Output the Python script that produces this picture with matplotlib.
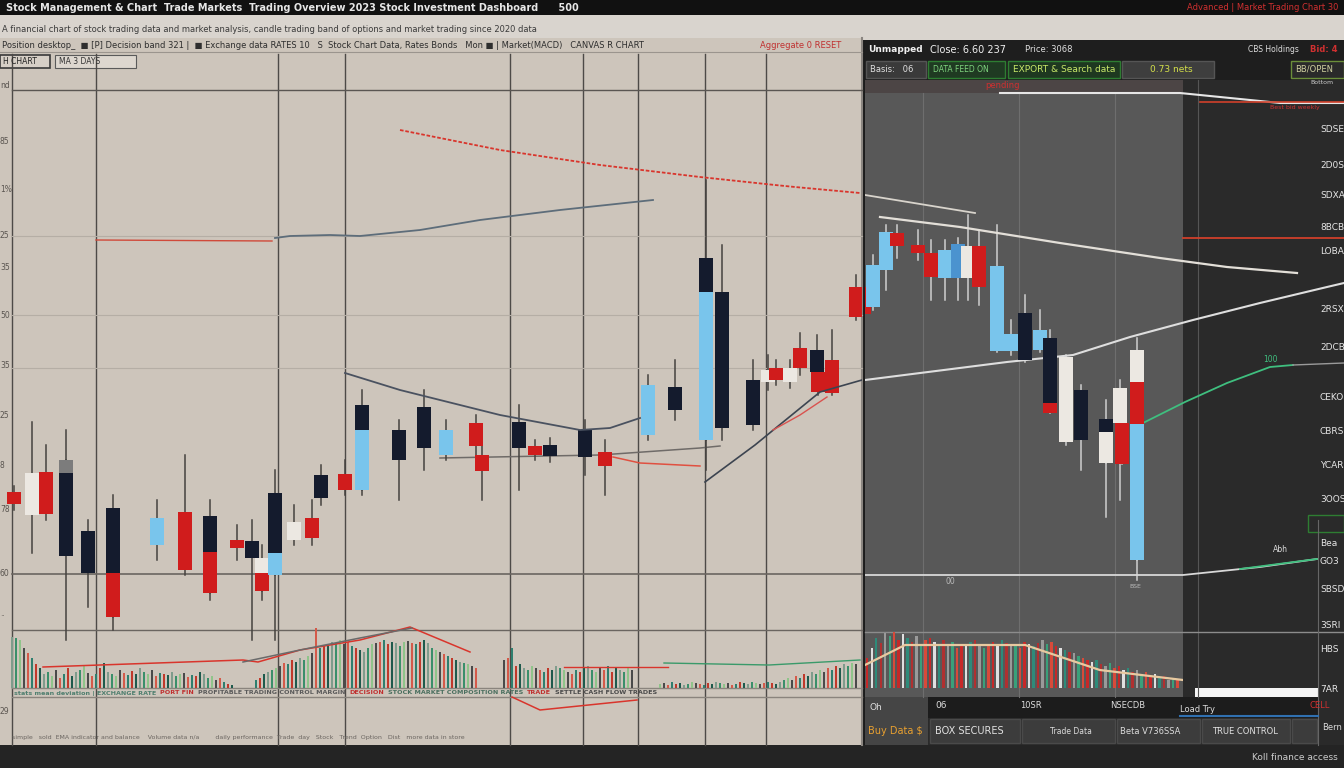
import matplotlib
matplotlib.use('Agg')
import matplotlib.pyplot as plt
from matplotlib.patches import Rectangle
import numpy as np

W, H = 1344, 768

# ---- candle data: time, body top, body bottom, high, low, colour code ----
l_t = [2.8, 6.4, 9.2, 13.2, 13.2, 17.6, 22.6, 22.6, 31.4, 37, 42, 42, 47.4, 50.4, 52.4, 52.4,
       55, 55, 58.8, 62.4, 64.2, 69, 72.4, 72.4, 79.8, 84.8, 89.2, 95.2, 96.4, 103.8, 107, 110,
       117, 121, 129.6, 135, 141.2, 141.2, 144.4, 150.6, 153.6, 155.2, 158, 160, 163.4, 163.6,
       166.4, 171.2]
l_top = [308, 327, 328, 340, 327, 269, 292, 227, 282, 288, 284, 248, 260, 259, 242, 227,
         307, 247, 278, 282, 325, 326, 395, 370, 370, 393, 370, 377, 345, 378, 354, 355,
         370, 348, 415, 413, 542, 508, 508, 420, 430, 432, 432, 452, 450, 428,
         440, 513]
l_bot = [296, 285, 286, 327, 244, 227, 227, 183, 255, 230, 248, 207, 252, 242, 227, 209,
         247, 225, 260, 262, 302, 310, 370, 310, 340, 352, 345, 354, 329, 352, 345, 344,
         343, 334, 365, 390, 508, 360, 372, 375, 418, 420, 418, 432, 428, 408,
         407, 483]
l_high = [314, 378, 355, 340, 370, 280, 305, 227, 300, 345, 300, 248, 275, 280, 255, 227,
          330, 247, 295, 300, 335, 340, 410, 370, 380, 410, 380, 385, 355, 395, 360, 362,
          380, 360, 425, 440, 620, 508, 555, 440, 445, 440, 440, 467, 465, 428,
          470, 525]
l_low = [290, 247, 280, 327, 160, 193, 170, 183, 240, 225, 200, 207, 240, 160, 200, 209,
         160, 225, 255, 255, 295, 305, 305, 310, 300, 330, 340, 330, 300, 310, 340, 338,
         325, 305, 360, 380, 330, 360, 360, 370, 410, 415, 412, 425, 420, 405,
         405, 480]
l_col = ['r', 'w', 'r', 'g', 'k', 'k', 'k', 'r', 'b', 'r', 'k', 'r', 'r', 'k', 'w', 'r',
         'k', 'b', 'w', 'r', 'k', 'r', 'k', 'b', 'k', 'k', 'b', 'r', 'r', 'k', 'r', 'k',
         'k', 'r', 'b', 'k', 'k', 'b', 'k', 'k', 'w', 'r', 'w', 'r', 'k', 'r',
         'r', 'r']

r_t = [-0.2, 1.6, 4.2, 6.4, 10.6, 13.2, 16, 18.6, 20.6, 22.8, 26.4, 29.2, 32, 35, 37, 37,
       40.2, 43.2, 48.2, 48.2, 51, 51.4, 54.4, 54.4, 54.4]
r_top = [513, 535, 568, 567, 555, 547, 550, 556, 554, 554, 534, 466, 487, 470, 462, 397,
         443, 410, 381, 368, 412, 377, 450, 418, 376]
r_bot = [486, 493, 530, 554, 547, 523, 522, 522, 522, 513, 449, 449, 440, 450, 397, 387,
         358, 360, 367, 337, 377, 336, 418, 376, 240]
r_high = [520, 545, 575, 575, 570, 560, 560, 562, 585, 570, 575, 480, 505, 490, 470, 397,
          445, 415, 400, 368, 420, 377, 462, 418, 376]
r_low = [480, 490, 510, 542, 540, 500, 500, 500, 500, 495, 448, 445, 438, 448, 390, 387,
         355, 330, 283, 337, 300, 336, 220, 376, 240]
r_col = ['r', 'b', 'b', 'r', 'r', 'r', 'b', 'd', 'w', 'r', 'b', 'b', 'k', 'b', 'k', 'r',
         'w', 'k', 'k', 'w', 'w', 'r', 'w', 'r', 'b']

# ---- overlay lines (time, price) ----
ma_red_t = [80, 100, 120, 140, 155, 159, 172]
ma_red_p = [670, 650, 635, 623, 615, 613, 607]
lvl_red_t = [19.2, 54.4]
lvl_red_p = [560, 559]
ma_blue_t = [55, 58, 66, 72, 84, 96, 112, 130.6]
ma_blue_p = [562, 564, 565, 564, 570, 580, 590, 600]
ma_dark_t = [69, 80, 88, 100, 116, 122, 128]
ma_dark_p = [427, 410, 400, 385, 370, 372, 382]
trend_t = [141, 151, 155.4, 164, 172.4]
trend_p = [318, 355, 373, 408, 420]
trend_red_t = [154.6, 160, 165.4]
trend_red_p = [370, 385, 403]
base_t = [88, 120, 140, 144]
base_p = [342, 345, 352, 354]
base_red_t = [122.6, 128, 140]
base_red_p = [343, 337, 334]

r1_t = [0, 22]
r1_p = [605, 587]
r2_t = [3, 19, 39, 59, 72.4, 86.4]
r2_p = [583, 573, 557, 542, 533, 527]
r3_t = [0, 28.4, 41.6, 53, 65.6, 79, 92.4, 95.8]
r3_p = [420, 438, 445, 463, 480, 497, 513, 517]
r4_t = [55.6, 64, 72.4, 81, 85.6]
r4_p = [377, 398, 417, 433, 435]
r4b_t = [85.6, 95.8]
r4b_p = [435, 437]
r5_t = [0, 63.6, 79, 90.4]
r5_p = [225, 225, 233, 241]
r5g_t = [75, 90.4]
r5g_p = [231, 241]
r6_t = [63.6, 95.8]
r6_p = [562, 562]
r7_t = [27, 63, 83, 95.8]
r7_p = [707, 707, 697, 697]
r7r_t = [67, 95.8]
r7r_p = [698, 698]

# ---- volume ----
vol_a = [51, 50, 48, 40, 35, 30, 24, 20]
vol_b = [14, 16, 12, 18, 10, 14, 20, 12, 16, 18, 22, 15, 12, 14, 20, 25, 16, 14, 12, 18, 15, 13,
         17, 14, 20, 16, 14, 18, 12, 15, 14, 13, 16, 12, 14, 15, 11, 13, 12, 16, 14, 10, 12, 8,
         10, 6, 4, 3]
vol_c = [8, 10, 14, 16, 18, 20, 22, 25, 24, 28, 26, 30, 28, 32, 35, 60, 40, 42, 44, 46, 45, 48,
         44, 46, 42, 40, 38, 36, 40, 44, 45, 46, 48, 44, 46, 45, 42, 46, 47, 45, 44, 46, 48, 45,
         40, 38, 36, 34, 32, 30, 28, 26, 25, 24, 22, 20]
vol_d = [28, 30, 40, 22, 24, 20, 18, 22, 20, 18, 16, 20, 18, 22, 20, 18, 16, 14, 18, 16, 20, 22,
         18, 16, 20, 18, 22, 16, 20, 18, 16, 20, 18]
vol_e = [4, 5, 3, 6, 4, 5, 3, 4, 6, 5, 4, 3, 5, 4, 6, 5, 4, 5, 3, 4, 6, 5, 4, 6, 5, 4, 5, 6, 5, 4,
         6, 8, 10, 8, 12, 10, 14, 12, 16, 14, 18, 16, 20, 18, 22, 20, 24, 22, 25, 24]
vol_start = [3, 11, 64, 126, 165]
vol_r = [30, 40, 50, 45, 55, 52, 56, 48, 54, 50, 46, 52, 44, 48, 50, 46, 42, 48, 44, 46, 40, 44,
         42, 46, 48, 44, 40, 42, 46, 44, 48, 45, 42, 44, 40, 46, 44, 42, 45, 48, 44, 46, 42, 40,
         38, 36, 35, 32, 30, 28, 26, 28, 24, 22, 25, 20, 22, 18, 20, 16, 18, 14, 16, 12, 14, 10,
         12, 8, 10, 8]
vl_red_x = [10.75, 60.75, 64.5, 75, 90, 102.5, 117.5]
vl_red_y = [21, 28, 26, 38, 48, 61, 36]
vl_gray_x = [60.75, 75, 90, 103]
vl_gray_y = [26, 38, 50, 60]
vl_flat_x = [141, 167]
vl_flat_y = [21, 21]
vl_green_x = [166, 192.25, 215]
vl_green_y = [25, 23, 28]
vl_low_x = [128, 135, 159.25]
vl_low_y = [-9, -22, -12]
vr_curve_x = [0, 8.9, 35.6, 52.2, 70.7]
vr_curve_y = [23, 43, 43, 18, 8]

left_ticks = ['nd', '85', '1%', '25', '35', '50', '35', '25', '8', '78', '60', '..', '29']
left_tick_p = [715, 659, 610, 565, 532, 485, 435, 385, 335, 290, 226, 187, 88]
right_ticks = ['SDSE', '2D0S', 'SDXA', '8BCB', 'LOBA', '2RSX', '2DCB', 'CEKO', 'CBRS', 'YCAR',
               '3OOS', 'Bea', 'GO3', 'SBSD', '3SRI', 'HBS', '7AR']
right_tick_p = [670, 635, 605, 572, 548, 490, 452, 402, 368, 335, 300, 257, 238, 210, 175, 150, 110]

COL = {'k': '#141b2d', 'r': '#d01c1c', 'b': '#79c5ec', 'w': '#ece8e2', 'g': '#7c7c7c',
       'd': '#4b93cf'}
VOL_L = ['#2e7f6e', '#c0392b', '#1e5a4c', '#7f9c8c', '#3b8f6a', '#8fc48a', '#4a4a4a', '#d45a4a']
VOL_R = ['#c62828', '#e0e0e0', '#2e8b7a', '#b03030', '#9a9a9a', '#3aa07a', '#d84a3a']

fig = plt.figure(figsize=(W / 100, H / 100), dpi=100)
fig.patch.set_facecolor('#1c1c1c')


def px_axes(x0, y0, x1, y1):
    ax = fig.add_axes([x0 / W, 1 - y1 / H, (x1 - x0) / W, (y1 - y0) / H])
    ax.patch.set_alpha(0)
    ax.axis('off')
    return ax


def box(ax, x0, y0, x1, y1, fc, ec='none', lw=1.0):
    ax.add_patch(Rectangle((x0, y0), x1 - x0, y1 - y0, facecolor=fc, edgecolor=ec, linewidth=lw))


# ---- background / frame ----
bg = px_axes(0, 0, W, H)
bg.set_xlim(0, W)
bg.set_ylim(H, 0)
box(bg, 0, 0, W, 15, '#111111')
box(bg, 0, 15, W, 40, '#d9d4ce')
box(bg, 0, 38, 862, 745, '#cdc5bb')
box(bg, 865, 40, 1344, 745, '#2a2a2a')
box(bg, 865, 80, 1183, 697, '#585858')
box(bg, 865, 80, 1183, 93, '#4c4545')
box(bg, 865, 40, 1344, 80, '#1e1e1e')
box(bg, 0, 745, W, H, '#242424')
bg.plot([862, 862], [38, 745], color='#8a8580', lw=1.5)
bg.plot([0, 862], [52, 52], color='#9b958e', lw=0.8)

for x in [12, 96, 278, 345, 510, 583, 638, 705, 766]:
    bg.plot([x, x], [54, 745], color='#4d4a47', lw=1.0)
for y, c, w in [(90, '#5a5652', 1.0), (236, '#b5aea5', 0.8), (315, '#b5aea5', 0.8),
                (368, '#b5aea5', 0.8), (574, '#6a6560', 1.2), (630, '#6a6560', 1.0),
                (688, '#8a847d', 1.0), (697, '#8a847d', 1.0)]:
    bg.plot([12, 862], [y, y], color=c, lw=w)
for x in [923, 1019, 1115]:
    bg.plot([x, x], [93, 697], color='#6e6e6e', lw=0.8)
bg.plot([1198, 1198], [80, 697], color='#555555', lw=0.8)
bg.plot([865, 1344], [632, 632], color='#8c8c8c', lw=1.0)
bg.plot([1318, 1318], [520, 745], color='#666666', lw=0.8)

# header text
bg.text(6, 8, 'Stock Management & Chart  Trade Markets  Trading Overview 2023 Stock Investment Dashboard      500',
        color='#e6e6e6', fontsize=7, va='center', fontweight='bold')
bg.text(1338, 8, 'Advanced | Market Trading Chart 30', color='#d03030', fontsize=6, va='center',
        ha='right')
bg.text(2, 29, 'A financial chart of stock trading data and market analysis, candle trading band of options and market trading since 2020 data', color='#3a3a3a',
        fontsize=6, va='center')
bg.text(2, 45, 'Position desktop_  \u25a0 [P] Decision band 321 |  \u25a0 Exchange data RATES 10   S  Stock Chart Data, Rates Bonds   Mon \u25a0 | Market(MACD)   CANVAS R CHART',
        color='#2e2e2e', fontsize=6, va='center')
bg.text(760, 45, 'Aggregate 0 RESET', color='#c03030', fontsize=6, va='center')
box(bg, 0, 55, 50, 68, '#d6cfc6', ec='#3a3a3a', lw=1.2)
bg.text(3, 61.5, 'H CHART', color='#222222', fontsize=5.5, va='center')
box(bg, 55, 55, 136, 68, '#ddd7cf', ec='#5a5a5a', lw=0.8)
bg.text(59, 61.5, 'MA 3 DAYS', color='#333333', fontsize=5.5, va='center')

# right toolbar
bg.text(868, 50, 'Unmapped', color='#f0f0f0', fontsize=6.5, va='center', fontweight='bold')
bg.text(930, 50, 'Close: 6.60 237', color='#f0f0f0', fontsize=7, va='center')
bg.text(1025, 50, 'Price: 3068', color='#e0e0e0', fontsize=6, va='center')
bg.text(1248, 50, 'CBS Holdings', color='#dddddd', fontsize=5.5, va='center')
bg.text(1310, 50, 'Bid: 4', color='#d03030', fontsize=6, va='center', fontweight='bold')
box(bg, 866, 61, 926, 78, '#3a3a3a', ec='#555555')
bg.text(870, 69.5, 'Basis:   06', color='#e0e0e0', fontsize=6, va='center')
box(bg, 928, 61, 1005, 78, '#1f3a22', ec='#2e7d32')
bg.text(933, 69.5, 'DATA FEED ON', color='#7fd47f', fontsize=5.5, va='center')
box(bg, 1008, 61, 1120, 78, '#1e3820', ec='#2e7d32')
bg.text(1013, 69.5, 'EXPORT & Search data', color='#c9e86a', fontsize=6.5, va='center')
box(bg, 1122, 61, 1214, 78, '#3e3e3e', ec='#555555')
bg.text(1150, 69.5, '0.73 nets', color='#d4e04a', fontsize=6.5, va='center')
box(bg, 1291, 61, 1344, 78, '#2a2a2a', ec='#6b8e3a')
bg.text(1295, 69.5, 'BB/OPEN', color='#d0d0a0', fontsize=6, va='center')
bg.text(1310, 83, 'Bottom', color='#cccccc', fontsize=4.5, va='center')
bg.text(985, 86, 'pending', color='#d03030', fontsize=6, va='center')
bg.text(1270, 108, 'Best bid weekly', color='#d03030', fontsize=4.5, va='center')

# bottom right panel
box(bg, 865, 697, 1318, 718, '#1c1c1c')
box(bg, 865, 697, 928, 745, '#454545')
box(bg, 930, 719, 1020, 743, '#3c3c3c', ec='#4a4a4a')
box(bg, 1022, 719, 1115, 743, '#3c3c3c', ec='#4a4a4a')
box(bg, 1117, 719, 1200, 743, '#3c3c3c', ec='#4a4a4a')
box(bg, 1202, 719, 1290, 743, '#3c3c3c', ec='#4a4a4a')
box(bg, 1292, 719, 1317, 743, '#3c3c3c', ec='#4a4a4a')
box(bg, 1195, 688, 1318, 697, '#f4f4f4')
bg.plot([1180, 1318], [716, 716], color='#3070b0', lw=1.5)
bg.text(870, 708, 'Oh', color='#dddddd', fontsize=6.5, va='center')
bg.text(935, 706, '06', color='#dddddd', fontsize=6.5, va='center')
bg.text(1020, 706, '10SR', color='#dddddd', fontsize=6, va='center')
bg.text(1110, 706, 'NSECDB', color='#dddddd', fontsize=6, va='center')
bg.text(1180, 710, 'Load Try', color='#dddddd', fontsize=6, va='center')
bg.text(868, 731, 'Buy Data $', color='#e8a030', fontsize=7, va='center')
bg.text(935, 731, 'BOX SECURES', color='#e0e0e0', fontsize=7, va='center')
bg.text(1050, 731, 'Trade Data', color='#dddddd', fontsize=5.5, va='center')
bg.text(1120, 731, 'Beta V736SSA', color='#dddddd', fontsize=6, va='center')
bg.text(1212, 731, 'TRUE CONTROL', color='#e0e0e0', fontsize=6, va='center')
bg.text(1252, 757, 'Koll finance access', color='#cccccc', fontsize=6.5, va='center')
box(bg, 1308, 515, 1344, 532, '#2a2a2a', ec='#2e7d32')
bg.text(1310, 705, 'CELL', color='#d03030', fontsize=6, va='center')
bg.text(1322, 728, 'Bern', color='#dddddd', fontsize=6, va='center')

# bottom strip texts on left, placed one after another using measured widths
strip = ['stats mean deviation | EXCHANGE RATE', 'PORT FIN', 'PROFITABLE TRADING CONTROL MARGIN',
         'DECISION', 'STOCK MARKET COMPOSITION RATES', 'TRADE', 'SETTLE CASH FLOW TRADES']
strip_c = ['#4f7f6f', '#c03030', '#5a5a5a', '#c03030', '#4a6f5f', '#c03030', '#4a4a4a']
renderer = fig.canvas.get_renderer()
xs = 14
for s, c in zip(strip, strip_c):
    t = bg.text(xs, 693, s, color=c, fontsize=4.6, va='center', fontweight='bold')
    xs += t.get_window_extent(renderer).width + 4
bg.text(8, 738, '  simple   sold  EMA indicator and balance    Volume data n/a        daily performance  Trade  day   Stock   Trend  Option   Dist   more data in store',
        color='#6a6560', fontsize=4.5, va='center')

# axis labels
for lab, p in zip(left_ticks, left_tick_p):
    bg.text(0, 800 - p, lab, color='#5a5550', fontsize=5.5, va='center')
for lab, p in zip(right_ticks, right_tick_p):
    bg.text(1320, 800 - p, lab, color='#e6e6e6', fontsize=6.5, va='center')

# ---- candles ----
def draw_candles(ax, t, top, bot, hi, lo, cols, width, wick):
    for i in range(len(t)):
        ax.plot([t[i], t[i]], [lo[i], hi[i]], color=wick, lw=1.1, zorder=2)
        ax.add_patch(Rectangle((t[i] - width / 2, bot[i]), width, top[i] - bot[i],
                               facecolor=COL[cols[i]], edgecolor='none', zorder=3))


axl = px_axes(0, 40, 862, 745)
axl.set_xlim(0, 172.4)
axl.set_ylim(55, 760)
draw_candles(axl, l_t, l_top, l_bot, l_high, l_low, l_col, 2.7, '#45423f')
axl.plot(ma_red_t, ma_red_p, color='#d9352c', lw=1.3, ls=(0, (2, 1)), zorder=4)
axl.plot(lvl_red_t, lvl_red_p, color='#d04a3a', lw=1.0, zorder=4)
axl.plot(ma_blue_t, ma_blue_p, color='#5d6d7a', lw=1.3, zorder=4)
axl.plot(ma_dark_t, ma_dark_p, color='#4a5260', lw=1.3, zorder=4)
axl.plot(trend_t, trend_p, color='#3c4450', lw=1.2, zorder=4)
axl.plot(trend_red_t, trend_red_p, color='#d9534f', lw=1.0, zorder=4)
axl.plot(base_t, base_p, color='#6f6b68', lw=1.1, zorder=1)
axl.plot(base_red_t, base_red_p, color='#e05040', lw=1.1, zorder=4)

axr = px_axes(865, 40, 1344, 745)
axr.set_xlim(0, 95.8)
axr.set_ylim(55, 760)
draw_candles(axr, r_t, r_top, r_bot, r_high, r_low, r_col, 2.8, '#cfcfcf')
axr.plot(r1_t, r1_p, color='#d8d4cc', lw=1.3)
axr.plot(r2_t, r2_p, color='#e3dfd8', lw=1.6)
axr.plot(r3_t, r3_p, color='#dedede', lw=1.5)
axr.plot(r4_t, r4_p, color='#3fbf7f', lw=1.3)
axr.plot(r4b_t, r4b_p, color='#9a9a9a', lw=1.0)
axr.plot(r5_t, r5_p, color='#d8d8d8', lw=1.3)
axr.plot(r5g_t, r5g_p, color='#3fbf7f', lw=1.3)
axr.plot(r6_t, r6_p, color='#d0402a', lw=1.3)
axr.plot(r7_t, r7_p, color='#e6e6e6', lw=1.5)
axr.plot(r7r_t, r7r_p, color='#d0402a', lw=1.2)
axr.text(81, 438, '100', color='#3fbf7f', fontsize=5.5, ha='center')
axr.text(83, 248, 'Abh', color='#dddddd', fontsize=5.5, ha='center')
axr.text(17, 216, '00', color='#bbbbbb', fontsize=5.5, ha='center')
axr.text(54, 212, 'BSE', color='#bbbbbb', fontsize=4.5, ha='center')

# ---- volume ----
avl = px_axes(0, 620, 862, 715)
avl.set_xlim(0, 215.5)
avl.set_ylim(-27, 68)
for seg, s in zip([vol_a, vol_b, vol_c, vol_d, vol_e], vol_start):
    x = np.arange(s, s + len(seg))
    cols = [VOL_L[(s + i) % len(VOL_L)] for i in range(len(seg))]
    avl.bar(x, seg, width=0.6, color=cols, zorder=2)
avl.plot(vl_red_x, vl_red_y, color='#d9352c', lw=1.1, zorder=3)
avl.plot(vl_gray_x, vl_gray_y, color='#6a6a6a', lw=1.1, zorder=3)
avl.plot(vl_flat_x, vl_flat_y, color='#d9352c', lw=1.0, zorder=3)
avl.plot(vl_green_x, vl_green_y, color='#3a9a6a', lw=1.0, zorder=3)
avl.plot(vl_low_x, vl_low_y, color='#d9352c', lw=1.1, zorder=3)

avr = px_axes(865, 620, 1183, 688)
avr.set_xlim(0, 70.7)
avr.set_ylim(0, 68)
xr = np.arange(len(vol_r)) + 0.5
avr.bar(xr, vol_r, width=0.55, color=[VOL_R[i % len(VOL_R)] for i in range(len(vol_r))], zorder=2)
avr.plot(vr_curve_x, vr_curve_y, color='#e8c9a0', lw=1.6, zorder=3)

fig.savefig('out.png', dpi=100, facecolor=fig.get_facecolor())
